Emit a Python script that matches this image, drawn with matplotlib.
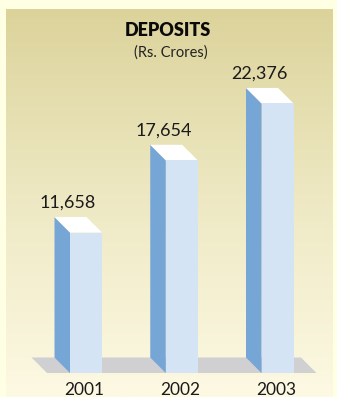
import numpy as np
import matplotlib.pyplot as plt
from matplotlib.patches import Polygon
from matplotlib.colors import LinearSegmentedColormap

years = ['2001', '2002', '2003']
deposits = [11658, 17654, 22376]
value_labels = ['11,658', '17,654', '22,376']

W, H = 337, 397
PX_X = 95.75          # pixels per category step
PX_Y = 1 / 83.0       # pixels per unit of deposit

plt.rcParams['font.family'] = ['Lato', 'DejaVu Sans']

fig = plt.figure(figsize=(W / 100, H / 100), dpi=100)
fig.patch.set_facecolor('#FFFFE4')

# shaded panel behind the chart
bg = fig.add_axes([6 / W, 0, (333 - 6) / W, (H - 9) / H])
bg.axis('off')
panel = LinearSegmentedColormap.from_list('panel', ['#DCD39B', '#EEE9C4', '#FDF9E3'])
bg.imshow(np.linspace(0, 1, 256).reshape(-1, 1), aspect='auto', cmap=panel,
          extent=[0, 1, 0, 1])

ax = fig.add_axes([0, 0, 1, 1])
ax.patch.set_visible(False)
ax.axis('off')
ax.set_xlim(-86 / PX_X, (W - 86) / PX_X)
ax.set_ylim(-24 / PX_Y, 373 / PX_Y)

bar_w = 32 / PX_X
dx = -15.5 / PX_X     # depth offset (back is up and to the left)
dy = 15.5 / PX_Y
pad = 0.24

# grey floor
n = len(deposits)
fl, fr = -bar_w / 2 - pad, n - 1 + bar_w / 2 + pad
ax.add_patch(Polygon([(fl, 0), (fr, 0), (fr + dx, dy), (fl + dx, dy)],
                     closed=True, fc='#D0D0D3', ec='none', zorder=1))

for i, v in enumerate(deposits):
    x0, x1 = i - bar_w / 2, i + bar_w / 2
    side = [(x0, 0), (x0, v), (x0 + dx, v + dy), (x0 + dx, dy)]
    top = [(x0, v), (x1, v), (x1 + dx, v + dy), (x0 + dx, v + dy)]
    ax.add_patch(Polygon(side, closed=True, fc='#76A6D6', ec='none', zorder=2))
    ax.add_patch(Polygon(top, closed=True, fc='#FFFFFF', ec='none', zorder=2))
    ax.bar(i, v, width=bar_w, color='#D4E4F4', zorder=3)
    ax.text(i - 0.19, v + dy + 9 / PX_Y, value_labels[i], ha='center',
            va='baseline', fontsize=13, color='#1A1A1A')
    ax.text(i - 0.015, -22 / PX_Y, years[i], ha='center', va='baseline',
            fontsize=12.5, color='#1A1A1A')

fig.text(167.5 / W, 1 - 30 / H, 'DEPOSITS', ha='center', va='center',
         fontsize=13, fontweight='heavy', color='#0A0A0A')
fig.text(171 / W, 1 - 53 / H, '(Rs. Crores)', ha='center', va='center',
         fontsize=10.5, color='#222222')

fig.savefig('out.png', dpi=100, facecolor=fig.get_facecolor())
